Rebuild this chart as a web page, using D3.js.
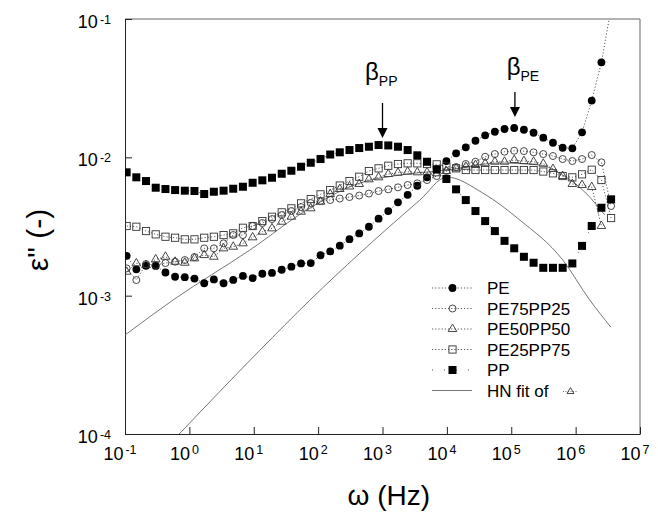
<!DOCTYPE html>
<html>
<head>
<meta charset="utf-8">
<script src="https://cdn.jsdelivr.net/npm/d3@7"></script>
<style>
body { margin: 0; background: #fff; }
svg { display: block; font-family: "Liberation Sans", Arial, sans-serif; }
</style>
</head>
<body>
<script>
// frecuencias de medida (Hz), comunes a todas las muestras
var frecuencias = [0.106, 0.150, 0.212, 0.300, 0.425, 0.600, 0.849, 1.20, 1.70, 2.40,
    3.40, 4.80, 6.79, 9.61, 13.6, 19.2, 27.2, 38.4, 54.3, 76.8,
    109, 154, 217, 307, 435, 615, 869, 1229, 1738, 2458,
    3475, 4915, 6950, 9829, 13900, 19657, 27797, 39311, 55590, 78614,
    111170, 157215, 222331, 314413, 444631, 628779, 889201, 1.2575e6, 1.778e6, 2.515e6,
    3.556e6];

// perdidas dielectricas eps''
var pe = [1.94e-3, 1.55e-3, 1.645e-3, 1.64e-3, 1.47e-3, 1.37e-3, 1.36e-3, 1.33e-3, 1.23e-3, 1.31e-3,
    1.23e-3, 1.30e-3, 1.39e-3, 1.34e-3, 1.44e-3, 1.46e-3, 1.54e-3, 1.62e-3, 1.71e-3, 1.72e-3,
    1.96e-3, 2.09e-3, 2.30e-3, 2.56e-3, 2.82e-3, 3.15e-3, 3.60e-3, 4.09e-3, 4.73e-3, 5.36e-3,
    6.23e-3, 7.17e-3, 8.23e-3, 9.40e-3, 1.069e-2, 1.181e-2, 1.318e-2, 1.443e-2, 1.531e-2, 1.602e-2,
    1.629e-2, 1.583e-2, 1.506e-2, 1.386e-2, 1.275e-2, 1.173e-2, 1.162e-2, 1.516e-2, 2.574e-2, 4.86e-2,
    0.12];
var pe75pp25 = [1.575e-3, 1.297e-3, 1.692e-3, 1.664e-3, 1.721e-3, 1.759e-3, 1.809e-3, 1.901e-3, 2.198e-3, 2.198e-3,
    2.389e-3, 2.743e-3, 2.743e-3, 3.187e-3, 3.350e-3, 3.580e-3, 3.826e-3, 4.090e-3, 4.371e-3, 4.673e-3,
    4.831e-3, 4.913e-3, 5.036e-3, 5.163e-3, 5.294e-3, 5.474e-3, 5.705e-3, 5.870e-3, 6.069e-3, 6.306e-3,
    6.486e-3, 6.853e-3, 7.325e-3, 7.960e-3, 8.509e-3, 8.946e-3, 9.294e-3, 1.010e-2, 1.056e-2, 1.098e-2,
    1.116e-2, 1.109e-2, 1.087e-2, 1.056e-2, 1.022e-2, 9.72e-3, 9.40e-3, 9.72e-3, 1.039e-2, 9.20e-3,
    4.445e-3];
var pe50pp50 = [1.489e-3, 1.713e-3, 1.664e-3, 1.830e-3, 1.911e-3, 1.759e-3, 1.730e-3, 1.860e-3, 1.966e-3, 1.911e-3,
    2.198e-3, 2.258e-3, 2.389e-3, 2.640e-3, 2.897e-3, 3.066e-3, 3.422e-3, 3.719e-3, 4.044e-3, 4.278e-3,
    4.775e-3, 5.428e-3, 5.900e-3, 6.151e-3, 6.412e-3, 6.933e-3, 7.168e-3, 7.572e-3, 7.738e-3, 7.869e-3,
    7.790e-3, 7.790e-3, 7.661e-3, 7.960e-3, 8.326e-3, 8.551e-3, 8.797e-3, 9.049e-3, 9.294e-3, 9.294e-3,
    9.561e-3, 9.40e-3, 9.294e-3, 8.990e-3, 8.230e-3, 7.325e-3, 6.412e-3, 6.306e-3, 6.099e-3, 3.187e-3];
var pe25pp75 = [3.187e-3, 3.150e-3, 2.932e-3, 2.775e-3, 2.667e-3, 2.623e-3, 2.553e-3, 2.553e-3, 2.623e-3, 2.667e-3,
    2.743e-3, 2.821e-3, 3.097e-3, 3.187e-3, 3.463e-3, 3.719e-3, 4.003e-3, 4.278e-3, 4.649e-3, 4.994e-3,
    5.401e-3, 5.802e-3, 6.254e-3, 6.739e-3, 7.240e-3, 7.960e-3, 8.326e-3, 8.696e-3, 8.946e-3, 9.049e-3,
    9.049e-3, 8.946e-3, 8.900e-3, 8.608e-3, 8.326e-3, 8.094e-3, 8.094e-3, 8.094e-3, 8.094e-3, 8.094e-3,
    8.094e-3, 8.094e-3, 8.094e-3, 7.894e-3, 7.661e-3, 7.325e-3, 7.168e-3, 7.536e-3, 8.134e-3, 6.853e-3,
    3.640e-3];
var pp = [7.79e-3, 7.17e-3, 6.74e-3, 6.03e-3, 5.90e-3, 5.80e-3, 5.74e-3, 5.71e-3, 5.43e-3, 5.64e-3,
    5.74e-3, 5.93e-3, 6.13e-3, 6.55e-3, 6.82e-3, 7.12e-3, 7.61e-3, 8.00e-3, 8.55e-3, 9.14e-3,
    9.72e-3, 1.048e-2, 1.087e-2, 1.129e-2, 1.167e-2, 1.193e-2, 1.227e-2, 1.219e-2, 1.193e-2, 1.129e-2,
    1.034e-2, 9.29e-3, 8.19e-3, 6.97e-3, 5.87e-3, 4.91e-3, 4.09e-3, 3.46e-3, 2.93e-3, 2.49e-3,
    2.20e-3, 1.91e-3, 1.73e-3, 1.59e-3, 1.59e-3, 1.59e-3, 1.71e-3, 2.29e-3, 3.19e-3, 4.32e-3,
    4.97e-3];

// ajuste Havriliak-Negami de PE50PP50 (total y componente)
var ajusteF = [0.1, 0.556, 8.73, 74.6, 446, 1862, 1e4, 66500, 2.78e5, 6.32e5, 1.39e6, 2.84e6];
var ajusteV = [5.19e-4, 9.29e-4, 2.14e-3, 4.30e-3, 6.52e-3, 7.45e-3, 8.09e-3, 9.09e-3, 8.80e-3, 7.45e-3, 5.61e-3, 3.83e-3];
var componenteF = [0.6, 12.5, 74.6, 446, 3808, 1e4, 36200, 1.36e5, 6.32e5, 1.66e6, 3.52e6];
var componenteV = [9.3e-5, 4.04e-4, 9.29e-4, 2.03e-3, 4.91e-3, 7.20e-3, 5.52e-3, 3.52e-3, 1.81e-3, 9.29e-4, 5.93e-4];

var ticksX = [1e-1, 1e0, 1e1, 1e2, 1e3, 1e4, 1e5, 1e6, 1e7];
var exponentesX = ["-1", "0", "1", "2", "3", "4", "5", "6", "7"];
var ticksY = [1e-4, 1e-3, 1e-2, 1e-1];
var exponentesY = ["-4", "-3", "-2", "-1"];
var nombres = ["PE", "PE75PP25", "PE50PP50", "PE25PP75", "PP"];
var picosF = [1e3, 1.14e5];
var picosNombre = ["PP", "PE"];

var x = d3.scaleLog().domain([0.1, 1e7]).range([125, 640]);
var y = d3.scaleLog().domain([1e-4, 1e-1]).range([434, 19]);

function marcador(g, tipo, cx, cy, esc) {
    esc = esc || 1;
    if (tipo == "circuloLleno") {
        g.append("circle").attr("cx", cx).attr("cy", cy).attr("r", 3.9 * esc).attr("fill", "#000");
    } else if (tipo == "circulo") {
        g.append("circle").attr("cx", cx).attr("cy", cy).attr("r", 3.5 * esc)
            .attr("fill", "none").attr("stroke", "#333").attr("stroke-width", 0.9);
    } else if (tipo == "triangulo") {
        g.append("path").attr("d", d3.symbol(d3.symbolTriangle, 32 * esc * esc)())
            .attr("transform", `translate(${cx},${cy})`)
            .attr("fill", "none").attr("stroke", "#333").attr("stroke-width", 0.9);
    } else if (tipo == "cuadrado") {
        var l = 7.2 * esc;
        g.append("rect").attr("x", cx - l / 2).attr("y", cy - l / 2).attr("width", l).attr("height", l)
            .attr("fill", "none").attr("stroke", "#333").attr("stroke-width", 0.9);
    } else {
        var l2 = 8 * esc;
        g.append("rect").attr("x", cx - l2 / 2).attr("y", cy - l2 / 2).attr("width", l2).attr("height", l2).attr("fill", "#000");
    }
}

function dibujar() {
    var svg = d3.select('body').append('svg').attr('width', 658).attr('height', 514);
    svg.append("defs").append("clipPath").attr("id", "area")
        .append("rect").attr("x", 125).attr("y", 19).attr("width", 515).attr("height", 415);

    // marco
    svg.append("line").attr("x1", 125).attr("x2", 640).attr("y1", 19).attr("y2", 19).attr("stroke", "#999").attr("stroke-width", 1.6);
    svg.append("line").attr("x1", 640).attr("x2", 640).attr("y1", 19).attr("y2", 434).attr("stroke", "#888").attr("stroke-width", 1.3);

    svg.append("g").attr("transform", "translate(0,434)")
        .call(d3.axisBottom(x).tickValues(ticksX).tickSizeInner(-7).tickSizeOuter(0).tickFormat(""));
    svg.append("g").attr("transform", "translate(125,0)")
        .call(d3.axisLeft(y).tickValues(ticksY).tickSizeInner(-7).tickSizeOuter(0).tickFormat(""));
    svg.selectAll(".domain, .tick line").attr("stroke", "#222");

    // etiquetas 10^n
    ticksX.forEach(function (t, i) {
        var txt = svg.append("text").attr("x", x(t) - 5).attr("y", 460).attr("text-anchor", "middle")
            .attr("font-size", 18).attr("fill", "#000");
        txt.append("tspan").text("10");
        txt.append("tspan").attr("dx", 2).attr("dy", -6).attr("font-size", 12.5).text(exponentesX[i]);
    });
    ticksY.forEach(function (t, i) {
        var txt = svg.append("text").attr("x", 111).attr("y", y(t) + 9).attr("text-anchor", "end")
            .attr("font-size", 18).attr("fill", "#000");
        txt.append("tspan").text("10");
        txt.append("tspan").attr("dx", 2).attr("dy", -4).attr("font-size", 12.5).text(exponentesY[i]);
    });

    // titulos
    svg.append("text").attr("x", 430).attr("y", 505).attr("text-anchor", "end")
        .attr("font-size", 28).text("ω (Hz)");
    svg.append("text").attr("transform", "translate(48,240) rotate(-90)").attr("text-anchor", "middle")
        .attr("font-size", 30).text("ε\" (-)");

    var plot = svg.append("g").attr("clip-path", "url(#area)");

    // ajuste HN
    var curva = d3.line().x(function (d) { return x(d[0]); }).y(function (d) { return y(d[1]); }).curve(d3.curveMonotoneX);
    plot.append("path").attr("d", curva(d3.zip(ajusteF, ajusteV))).attr("fill", "none").attr("stroke", "#666").attr("stroke-width", 0.9);
    plot.append("path").attr("d", curva(d3.zip(componenteF, componenteV))).attr("fill", "none").attr("stroke", "#666").attr("stroke-width", 0.9);

    var series = [pe, pe75pp25, pe50pp50, pe25pp75, pp];
    var tipos = ["circuloLleno", "circulo", "triangulo", "cuadrado", "cuadradoLleno"];
    var trazos = ["1.2,2", "1.2,2", "1.2,2", "1.2,2", "1,10"];
    var linea = d3.line().x(function (d, i) { return x(frecuencias[i]); }).y(function (d) { return y(d); });

    series.forEach(function (s, n) {
        plot.append("path").attr("d", linea(s)).attr("fill", "none").attr("stroke", "#444")
            .attr("stroke-width", 0.9).attr("stroke-dasharray", trazos[n]);
    });
    series.forEach(function (s, n) {
        var g = plot.append("g");
        s.forEach(function (v, i) {
            if (v <= 0.1) marcador(g, tipos[n], x(frecuencias[i]), y(v));
        });
    });

    // flechas de relajaciones beta
    var arriba = [103, 92], abajo = [138, 117], textoX = [365, 506.7], textoY = [79.5, 74.5];
    picosF.forEach(function (f, i) {
        var ax = x(f);
        svg.append("line").attr("x1", ax).attr("x2", ax).attr("y1", arriba[i]).attr("y2", abajo[i] - 8)
            .attr("stroke", "#000").attr("stroke-width", 1.3);
        svg.append("path").attr("d", `M${ax - 5},${abajo[i] - 10}L${ax + 5},${abajo[i] - 10}L${ax},${abajo[i]}Z`).attr("fill", "#000");
        var t = svg.append("text").attr("x", textoX[i]).attr("y", textoY[i]).attr("font-size", 24);
        t.append("tspan").text("β");
        t.append("tspan").attr("dy", 6.5).attr("font-size", 14).text(picosNombre[i]);
    });

    // leyenda
    var filas = [288, 308.5, 329, 349.5, 370, 390.5];
    nombres.forEach(function (nom, n) {
        var g = svg.append("g");
        g.append("line").attr("x1", 432).attr("x2", 472).attr("y1", filas[n]).attr("y2", filas[n])
            .attr("stroke", "#444").attr("stroke-width", 0.9).attr("stroke-dasharray", n == 4 ? "1,11" : "1.2,2");
        marcador(g, tipos[n], 452.5, filas[n]);
        g.append("text").attr("x", 487).attr("y", filas[n] + 6).attr("font-size", 17).text(nom);
    });
    svg.append("line").attr("x1", 432).attr("x2", 472).attr("y1", filas[5]).attr("y2", filas[5]).attr("stroke", "#666").attr("stroke-width", 0.9);
    svg.append("text").attr("x", 487).attr("y", filas[5] + 6).attr("font-size", 17).text("HN fit of");
    svg.append("line").attr("x1", 563).attr("x2", 578).attr("y1", filas[5] + 1).attr("y2", filas[5] + 1)
        .attr("stroke", "#444").attr("stroke-width", 0.8).attr("stroke-dasharray", "1,1.5");
    marcador(svg, "triangulo", 570.5, filas[5] + 1, 0.8);
}

window.onload = () => {
    dibujar();
}
</script>
</body>
</html>
